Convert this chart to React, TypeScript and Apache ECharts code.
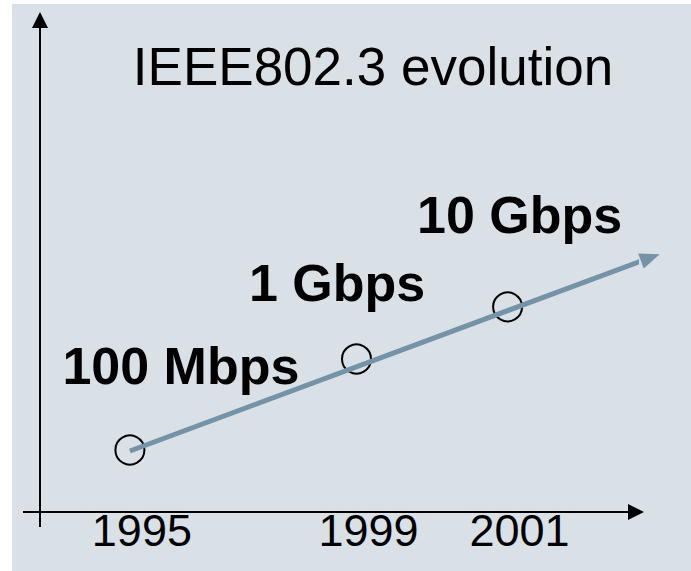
import React, { useEffect, useRef } from "react";
import * as echarts from "echarts";

// Years shown on the horizontal axis and their (schematic) positions along it
const years = ["1995", "1999", "2001"];
const xPositions = [0, 3, 5];
// Schematic height of each generation
const levels = [1.26, 3.11, 4.17];
const speedLabels = ["100 Mbps", "1 Gbps", "10 Gbps"];
// Trend arrow start / end in data units
const trendStart = [0, 1.24];
const trendEnd = [6.89, 5.17];

// Label offsets (layout only)
const labelOffsets = [
  [51, -84],
  [-19.5, -76],
  [12, -92],
];

const FONT = "'Liberation Sans', Arial, Helvetica, sans-serif";
const TREND_COLOR = "#7393a8";

export default function App() {
  const ref = useRef<HTMLDivElement>(null);

  useEffect(() => {
    if (!ref.current) return;
    const chart = echarts.init(ref.current, undefined, { renderer: "svg" });

    const option = {
      animation: false,
      backgroundColor: "#ffffff",
      title: {
        text: "IEEE802.3 evolution",
        left: 373,
        top: 40,
        padding: 0,
        textAlign: "center",
        textStyle: {
          fontFamily: FONT,
          fontSize: 53,
          fontWeight: "normal",
          color: "#000",
        },
      },
      graphic: [
        {
          type: "rect",
          z: -10,
          silent: true,
          shape: { x: 12, y: 4, width: 679, height: 567 },
          style: { fill: "#d9e1e7" },
        },
        {
          type: "line",
          silent: true,
          shape: { x1: 23, y1: 512, x2: 41, y2: 512 },
          style: { stroke: "#000", lineWidth: 2 },
        },
        {
          type: "line",
          silent: true,
          shape: { x1: 40, y1: 511, x2: 40, y2: 527 },
          style: { stroke: "#000", lineWidth: 2 },
        },
      ],
      grid: { left: 40, top: 20, right: 55, bottom: 59 },
      xAxis: {
        type: "value",
        min: -1.19,
        max: 6.7,
        splitLine: { show: false },
        axisTick: { show: false },
        axisLine: {
          show: true,
          onZero: false,
          symbol: ["none", "triangle"],
          symbolSize: [16, 16],
          lineStyle: { color: "#000", width: 2 },
        },
        axisLabel: {
          show: true,
          customValues: xPositions,
          formatter: (v: number) => {
            const i = xPositions.indexOf(v);
            return i >= 0 ? years[i] : "";
          },
          margin: -4,
          padding: [0, 0, 0, 24],
          fontFamily: FONT,
          fontSize: 45,
          color: "#000",
        },
      },
      yAxis: {
        type: "value",
        min: 0,
        max: 10,
        splitLine: { show: false },
        axisTick: { show: false },
        axisLabel: { show: false },
        axisLine: {
          show: true,
          onZero: false,
          symbol: ["none", "triangle"],
          symbolSize: [16, 16],
          lineStyle: { color: "#000", width: 2 },
        },
      },
      series: [
        {
          type: "scatter",
          symbol: "circle",
          symbolSize: 29,
          z: 2,
          clip: false,
          itemStyle: {
            color: "rgba(0,0,0,0)",
            borderColor: "#000",
            borderWidth: 2,
            opacity: 1,
          },
          data: xPositions.map((x, i) => ({
            value: [x, levels[i]],
            name: speedLabels[i],
            label: {
              show: true,
              position: "inside",
              offset: labelOffsets[i],
              formatter: speedLabels[i],
              align: "center",
              verticalAlign: "middle",
              fontFamily: FONT,
              fontSize: 52,
              fontWeight: "bold",
              color: "#000",
            },
          })),
        },
        {
          type: "line",
          z: 3,
          clip: false,
          silent: true,
          showSymbol: true,
          lineStyle: { color: TREND_COLOR, width: 5 },
          itemStyle: { color: TREND_COLOR, borderWidth: 0 },
          data: [
            { value: trendStart, symbol: "none" },
            {
              value: trendEnd,
              symbol: "triangle",
              symbolSize: [16, 20],
              symbolRotate: -69.6,
            },
          ],
        },
      ],
    };

    chart.setOption(option as any);
    return () => chart.dispose();
  }, []);

  return (
    <div
      ref={ref}
      style={{ position: "absolute", left: 0, top: 0, width: 691, height: 571 }}
    />
  );
}
